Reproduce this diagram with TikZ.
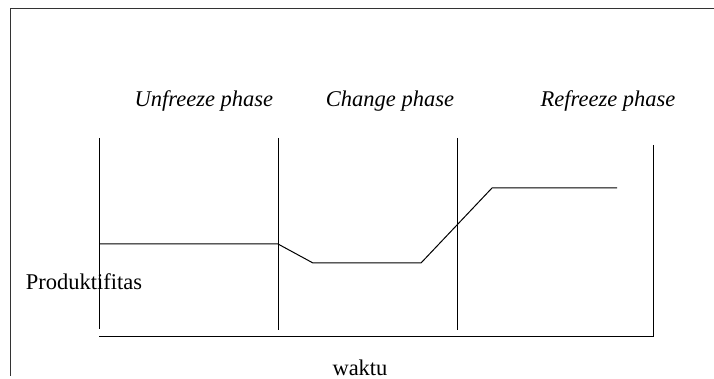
\documentclass[tikz,border=0pt]{standalone}
\usepackage{fontspec}
\setmainfont{Liberation Serif}
\usetikzlibrary{positioning}

\begin{document}
\begin{tikzpicture}[x=0.5pt,y=-0.5pt,line width=0.5pt,
    phase/.style={font=\fontsize{11.25}{13}\selectfont\itshape},
    axislabel/.style={font=\fontsize{11.25}{13}\selectfont}]
  \useasboundingbox (0,0) rectangle (714,379);

  % Frame
  \coordinate (f1) at (10,9);
  \coordinate (f2) at (714,9);
  \coordinate (f3) at (10,376);
  \draw[black!80] (f2) -- (f1) -- (f3);

  % Phase boundaries
  \coordinate (u1) at (99,138);  \coordinate (u2) at (99,329);
  \coordinate (c1) at (278,138); \coordinate (c2) at (278,330);
  \coordinate (r1) at (457,138); \coordinate (r2) at (457,330);
  \coordinate (e1) at (653,145); \coordinate (e2) at (653,337);
  \draw (u1) -- (u2);
  \draw (c1) -- (c2);
  \draw (r1) -- (r2);

  % Time axis
  \coordinate (t0) at (99,337);
  \draw (e1) -- (e2) -- (t0);

  % Productivity
  \coordinate (p0) at (99,244);
  \coordinate (p1) at (278,244);
  \coordinate (p2) at (313,263);
  \coordinate (p3) at (421,263);
  \coordinate (p4) at (492,188);
  \coordinate (p5) at (617,188);
  \draw (p0) -- (p1) -- (p2) -- (p3) -- (p4) -- (p5);

  % Labels
  \node[phase] (unfreeze) at (204,101) {Unfreeze phase};
  \node[phase] (change) at (390,101) {Change phase};
  \node[phase] (refreeze) at (608,101) {Refreeze phase};
  \node[axislabel] (prod) at (84,282) {Produktifitas};
  \node[axislabel, inner sep=0pt, anchor=base] (waktu) at (360,376) {waktu};
\end{tikzpicture}
\end{document}
